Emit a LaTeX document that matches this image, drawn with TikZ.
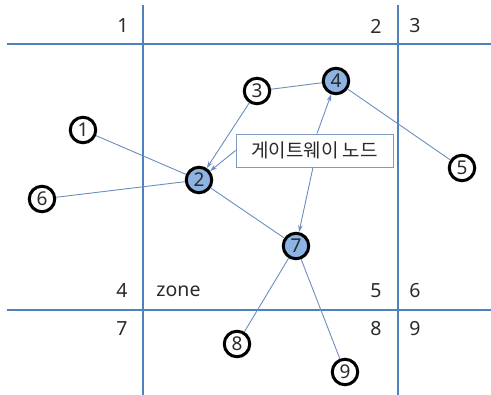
\documentclass[tikz,border=0pt]{standalone}
\usepackage{fontspec}
\setmainfont{Noto Sans}
\newfontfamily\krfont{Noto Sans CJK KR}
\usetikzlibrary{arrows.meta}
\definecolor{gridblue}{HTML}{4F81BD}
\definecolor{edgeblue}{HTML}{6A8DC0}
\definecolor{nodefill}{HTML}{8DB3E2}
\definecolor{boxline}{HTML}{7F9BBF}
\definecolor{txt}{HTML}{2A2A2A}
\tikzset{
  gridline/.style={draw=gridblue, line width=2pt},
  lab/.style={font=\fontsize{19.5}{21}\selectfont, text=txt, inner sep=0pt},
  nd/.style={circle, draw=black, line width=3pt, fill=white, minimum size=25.5pt, inner sep=0pt,
    font=\fontsize{19}{21}\selectfont, text=txt},
  gw/.style={nd, fill=nodefill},
  edge/.style={draw=edgeblue, line width=0.9pt},
  arr/.style={edge, -{Stealth[length=7pt,width=4.5pt]}},
  callout/.style={draw=boxline, line width=0.8pt, fill=white, minimum width=157pt, minimum height=33pt,
    inner sep=0pt, font=\krfont\fontsize{19}{21}\selectfont, text=txt},
}
\begin{document}
\begin{tikzpicture}[x=1pt, y=-1pt]
\useasboundingbox (0,0) rectangle (491,395);
% grid
\coordinate (h1a) at (7,44); \coordinate (h1b) at (491,44);
\coordinate (h2a) at (7,310); \coordinate (h2b) at (491,310);
\coordinate (v1a) at (143,5); \coordinate (v1b) at (143,395);
\coordinate (v2a) at (398,5); \coordinate (v2b) at (398,395);
\draw[gridline] (h1a) -- (h1b);
\draw[gridline] (h2a) -- (h2b);
\draw[gridline] (v1a) -- (v1b);
\draw[gridline] (v2a) -- (v2b);
% zone labels
\node[lab] (z1) at (123,26) {1};
\node[lab] (z2) at (376,26) {2};
\node[lab] (z3) at (415,26) {3};
\node[lab] (z4) at (122,291) {4};
\node[lab] (zone) at (178.5,291) {zone};
\node[lab] (z5) at (376,291) {5};
\node[lab] (z6) at (415,291) {6};
\node[lab] (z7) at (122,329) {7};
\node[lab] (z8) at (376,329) {8};
\node[lab] (z9) at (415,329) {9};
% nodes
\node[nd] (n1) at (83,130) {1};
\node[gw] (n2) at (199,180) {2};
\node[nd] (n3) at (257,91) {3};
\node[gw] (n4) at (336,81) {4};
\node[nd] (n5) at (462,168) {5};
\node[nd] (n6) at (42,199) {6};
\node[gw] (n7) at (296,246) {7};
\node[nd] (n8) at (237,344) {8};
\node[nd] (n9) at (345,372) {9};
\node[callout] (gwbox) at (314.5,150.5) {게이트웨이 노드};
% edges
\draw[edge] (n1) -- (n2);
\draw[edge] (n6) -- (n2);
\draw[edge] (n2) -- (n7);
\draw[edge] (n3) -- (n4);
\draw[edge] (n4) -- (n5);
\draw[edge] (n7) -- (n8);
\draw[edge] (n7) -- (n9);
\draw[arr] (n3) -- (n2);
\draw[arr] (gwbox.west) -- (n2);
\draw[arr] ([xshift=2.5pt]gwbox.north) -- (n4);
\draw[arr] ([xshift=-1.5pt]gwbox.south) -- (n7);
\end{tikzpicture}
\end{document}
